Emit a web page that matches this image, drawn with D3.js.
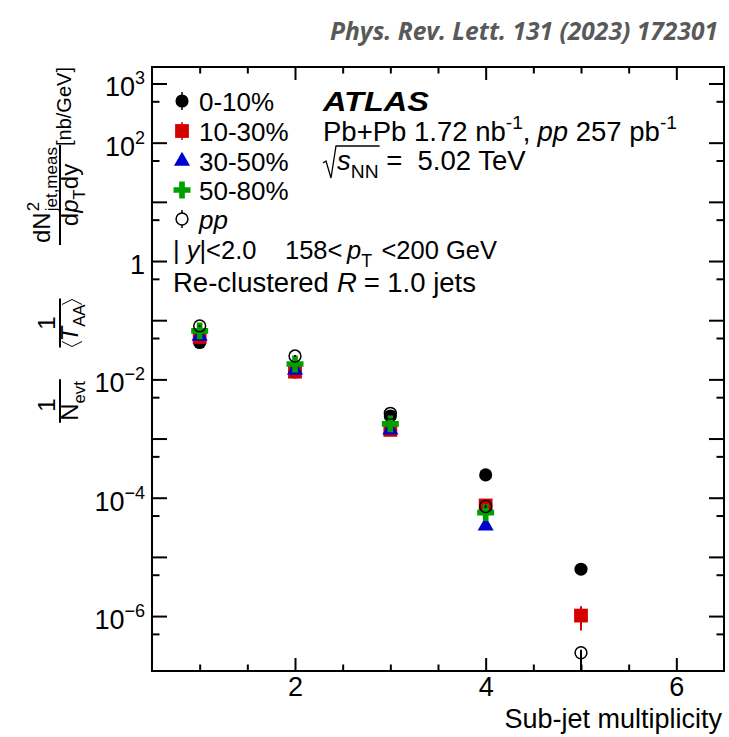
<!DOCTYPE html>
<html>
<head>
<meta charset="utf-8">
<script src="https://cdn.jsdelivr.net/npm/d3@7"></script>
<style>
  body { margin: 0; background: #fff; }
  svg { font-family: "Liberation Sans", Arial, sans-serif; }
  text { white-space: pre; }
</style>
</head>
<body>
<svg width="729" height="737"></svg>
<script>
// Values
var multiplicity = [1, 2, 3, 4, 5];
var cent0_10 = [0.042, 0.0133, 2.41e-3, 2.43e-4, 6.2e-6];
var cent10_30 = [0.052, 0.0135, 1.40e-3, 7.4e-5, 1.02e-6];
var cent30_50 = [0.054, 0.0144, 1.40e-3, 3.34e-5, null];
var cent50_80 = [0.066, 0.0182, 1.77e-3, 5.6e-5, null];
var ppRef = [0.080, 0.0248, 2.67e-3, 7.1e-5, 2.4e-7];

// uncertainties (mostly hidden under the markers)
var err0_10 = [0.003, 0.0010, 0.00015, 0.00001, 0.4e-6];
var err10_30 = [0.003, 0.0010, 0.00010, 0.5e-5, 0.45e-6];
var err30_50 = [0.003, 0.0010, 0.00010, 0.3e-5, null];
var err50_80 = [0.004, 0.0012, 0.00012, 0.4e-5, null];
var ppErrLo = [0.003, 0.0010, 0.00010, 0.4e-5, 1.8e-7];
var ppErrHi = [0.003, 0.0010, 0.00010, 0.4e-5, 0.3e-7];

var legendLabels = ["0-10%", "10-30%", "30-50%", "50-80%", "pp"];
var xTickLabels = [2, 4, 6];
var yTickLabels = [1e3, 1e2, 1, 1e-2, 1e-4, 1e-6];

var svg = d3.select("svg"),
  width = +svg.attr("width"),
  height = +svg.attr("height");

var xLeft = 152, xRight = 724, yTop = 67, yBottom = 671;

var x = d3.scaleLinear().domain([0.5, 6.5]).range([xLeft, xRight]);
var y = d3.scaleLog().domain([1.18e-7, 1.9e3]).range([yBottom, yTop]);

var red = "#d40000", blue = "#0000d0", green = "#00a000";

var series = [
  { name: legendLabels[0], vals: cent0_10, lo: err0_10, hi: err0_10, color: "#000", shape: "circle", fill: true },
  { name: legendLabels[1], vals: cent10_30, lo: err10_30, hi: err10_30, color: red, shape: "square", fill: true },
  { name: legendLabels[2], vals: cent30_50, lo: err30_50, hi: err30_50, color: blue, shape: "triangle", fill: true },
  { name: legendLabels[3], vals: cent50_80, lo: err50_80, hi: err50_80, color: green, shape: "cross", fill: true },
  { name: legendLabels[4], vals: ppRef, lo: ppErrLo, hi: ppErrHi, color: "#000", shape: "circle", fill: false }
];

function symbolPath(s) {
  if (s.shape === "circle") return d3.symbol().type(d3.symbolCircle).size(s.fill ? 135 : 110)();
  if (s.shape === "square") return d3.symbol().type(d3.symbolSquare).size(190)();
  if (s.shape === "triangle") return d3.symbol().type(d3.symbolTriangle).size(112)();
  return d3.symbol().type(d3.symbolCross).size(160)();
}

// rich text helper: parts = [[text, style], ...]
function rich(t, parts, fs) {
  var cur = 0;
  parts.forEach(function (p) {
    var st = p[1] || "";
    var off = st === "sub" ? 0.3 * fs : st === "sup" ? -0.42 * fs : 0;
    var ts = t.append("tspan").attr("dy", off - cur).text(p[0]);
    if (st === "i") ts.style("font-style", "italic");
    if (st === "sub" || st === "sup") ts.style("font-size", (0.7 * fs) + "px");
    cur = off;
  });
  return t;
}

// Title
svg.append("text")
  .attr("x", 718)
  .attr("y", 40)
  .attr("text-anchor", "end")
  .attr("textLength", 388)
  .attr("lengthAdjust", "spacingAndGlyphs")
  .style("font-family", "'Open Sans', sans-serif")
  .style("font-weight", "bold")
  .style("font-style", "italic")
  .style("font-size", "25px")
  .style("fill", "#595959")
  .text("Phys. Rev. Lett. 131 (2023) 172301");

// Axes
var xMinor = d3.range(1, 6.5, 0.5).filter(function (d) { return xTickLabels.indexOf(d) < 0; });
var yMajor = d3.range(-6, 4).map(function (e) { return Math.pow(10, e); });
var yMinor = d3.range(-7, 3).map(function (e) { return 5 * Math.pow(10, e); });

function styleAxis(g) {
  g.select(".domain").remove();
  g.selectAll("line").attr("stroke", "#000").attr("stroke-width", 2);
}

svg.append("g").attr("transform", "translate(0," + yBottom + ")")
  .call(d3.axisBottom(x).tickValues(xTickLabels).tickSizeInner(-13).tickSizeOuter(0).tickPadding(6).tickFormat(d3.format("d")))
  .call(styleAxis)
  .selectAll("text").style("font-size", "27px").style("font-family", "'Liberation Sans', Arial, sans-serif").attr("fill", "#000");
svg.append("g").attr("transform", "translate(0," + yBottom + ")")
  .call(d3.axisBottom(x).tickValues(xMinor).tickSize(-6.5).tickFormat(""))
  .call(styleAxis);
svg.append("g").attr("transform", "translate(0," + yTop + ")")
  .call(d3.axisTop(x).tickValues(xTickLabels).tickSize(-13).tickFormat(""))
  .call(styleAxis);
svg.append("g").attr("transform", "translate(0," + yTop + ")")
  .call(d3.axisTop(x).tickValues(xMinor).tickSize(-6.5).tickFormat(""))
  .call(styleAxis);

svg.append("g").attr("transform", "translate(" + xLeft + ",0)")
  .call(d3.axisLeft(y).tickValues(yMajor).tickSize(-15).tickFormat(""))
  .call(styleAxis);
svg.append("g").attr("transform", "translate(" + xLeft + ",0)")
  .call(d3.axisLeft(y).tickValues(yMinor).tickSize(-7.5).tickFormat(""))
  .call(styleAxis);
svg.append("g").attr("transform", "translate(" + xRight + ",0)")
  .call(d3.axisRight(y).tickValues(yMajor).tickSize(-15).tickFormat(""))
  .call(styleAxis);
svg.append("g").attr("transform", "translate(" + xRight + ",0)")
  .call(d3.axisRight(y).tickValues(yMinor).tickSize(-7.5).tickFormat(""))
  .call(styleAxis);

// y tick labels with superscripts
var yLab = svg.append("g").selectAll("text")
  .data(yTickLabels)
  .enter()
  .append("text")
  .attr("x", xLeft - 7)
  .attr("y", function (d) { return y(d) + 13; })
  .attr("text-anchor", "end")
  .style("font-size", "27px");
yLab.each(function (d) {
  var t = d3.select(this);
  var e = Math.round(Math.log10(d));
  if (e === 0) { t.text("1"); return; }
  t.append("tspan").text("10");
  t.append("tspan").attr("dy", -12).style("font-size", "18px")
    .text(e < 0 ? "\u2212" + (-e) : String(e));
});

// frame
svg.append("rect")
  .attr("x", xLeft).attr("y", yTop)
  .attr("width", xRight - xLeft).attr("height", yBottom - yTop)
  .attr("fill", "none").attr("stroke", "#000").attr("stroke-width", 2);

// x-axis title
svg.append("text")
  .attr("x", 722).attr("y", 728)
  .attr("text-anchor", "end")
  .style("font-size", "27px")
  .text("Sub-jet multiplicity");

// y-axis title (rotated, built from pieces)
var yt = svg.append("g").attr("transform", "translate(60,0) rotate(-90)");
var fsL = 24;

function piece(g, parts, fs, u, v, anchor) {
  var t = g.append("text").attr("x", u).attr("y", v)
    .attr("text-anchor", anchor || "start").style("font-size", fs + "px");
  rich(t, parts, fs);
  return t;
}
function bar(g, u0, u1) {
  g.append("line").attr("x1", u0).attr("x2", u1).attr("y1", 0).attr("y2", 0)
    .attr("stroke", "#000").attr("stroke-width", 2);
}

// 1 / N_evt
piece(yt, [["1"]], fsL, -405, -5, "middle");
var nevt = piece(yt, [["N"], ["evt", "sub"]], fsL, -401, 18, "middle");
var w1 = nevt.node().getComputedTextLength();
bar(yt, -401 - w1 / 2 - 2, -401 + w1 / 2 + 2);

// 1 / <T_AA>
piece(yt, [["1"]], fsL, -323, -5, "middle");
var taa = piece(yt, [["T", "i"], ["AA", "sub"]], fsL, -323, 18, "middle");
var w2 = taa.node().getComputedTextLength();
var bl = -323 - w2 / 2 - 5, br = -323 + w2 / 2 + 5;
yt.append("path").attr("d", "M" + (bl + 5) + ",2 L" + bl + ",12 L" + (bl + 5) + ",22")
  .attr("fill", "none").attr("stroke", "#000").attr("stroke-width", 1);
yt.append("path").attr("d", "M" + (br - 5) + ",2 L" + br + ",12 L" + (br - 5) + ",22")
  .attr("fill", "none").attr("stroke", "#000").attr("stroke-width", 1);
bar(yt, bl - 1, br + 1);

// dN^2_{jet,meas} / dp_T dy
var u0 = -243;
var dn = piece(yt, [["dN"]], fsL, u0, -10);
var wdn = dn.node().getComputedTextLength();
piece(yt, [["2"]], 17, u0 + wdn + 1, -21);
var jm = piece(yt, [["jet,meas"]], 17, u0 + wdn + 1, -3);
var wnum = wdn + 1 + jm.node().getComputedTextLength();
piece(yt, [["d"], ["p", "i"], ["T", "sub"], ["dy"]], fsL, u0 + wnum / 2, 18, "middle");
bar(yt, u0 - 2, u0 + wnum + 2);

// units
piece(yt, [["[nb/GeV]"]], 20, -146, 11);

// Data points
var plot = svg.append("g");
svg.append("clipPath").attr("id", "clip")
  .append("rect").attr("x", xLeft).attr("y", yTop)
  .attr("width", xRight - xLeft).attr("height", yBottom - yTop);

series.forEach(function (s) {
  var pts = multiplicity.map(function (m, i) {
    return { m: m, v: s.vals[i], lo: s.lo[i], hi: s.hi[i] };
  }).filter(function (d) { return d.v != null; });

  var g = plot.append("g");
  g.append("g").attr("clip-path", "url(#clip)")
    .selectAll("line")
    .data(pts)
    .enter()
    .append("line")
    .attr("x1", function (d) { return x(d.m); })
    .attr("x2", function (d) { return x(d.m); })
    .attr("y1", function (d) { return y(Math.max(d.v - d.lo, 1e-9)); })
    .attr("y2", function (d) { return y(d.v + d.hi); })
    .attr("stroke", s.color)
    .attr("stroke-width", 2);

  g.selectAll("path")
    .data(pts)
    .enter()
    .append("path")
    .attr("d", symbolPath(s))
    .attr("transform", function (d) { return "translate(" + x(d.m) + "," + y(d.v) + ")"; })
    .attr("fill", s.fill ? s.color : "none")
    .attr("stroke", s.fill ? "none" : s.color)
    .attr("stroke-width", 1.5);
});

// Legend
var legend = svg.append("g").style("font-size", "26px");
var rowY = [101, 131, 161, 190, 219];
series.forEach(function (s, i) {
  var row = legend.append("g").attr("transform", "translate(182," + rowY[i] + ")");
  if (s.shape === "circle" || s.shape === "square") {
    row.append("line").attr("y1", -9).attr("y2", 9)
      .attr("stroke", s.color).attr("stroke-width", 1.5);
  }
  row.append("path")
    .attr("d", symbolPath(s))
    .attr("fill", s.fill ? s.color : "#fff")
    .attr("stroke", s.fill ? "none" : s.color)
    .attr("stroke-width", 1.5);
  var t = row.append("text").attr("x", 17).attr("y", 9.5);
  if (s.name === "pp") t.style("font-style", "italic");
  t.text(s.name);
});

// cut and jet definition lines
var fsT = 27.5, fsC = 25.5;
var info = svg.append("g").style("font-size", fsT + "px");
var cuts = info.append("g").style("font-size", fsC + "px");
rich(cuts.append("text").attr("x", 173).attr("y", 259),
  [["| "], ["y", "i"], ["|<2.0"]], fsC);
rich(cuts.append("text").attr("x", 285).attr("y", 259),
  [["158<"]], fsC);
rich(cuts.append("text").attr("x", 347).attr("y", 259),
  [["p", "i"], ["T", "sub"]], fsC);
rich(cuts.append("text").attr("x", 497).attr("y", 259).attr("text-anchor", "end"),
  [["<200 GeV"]], fsC);
rich(info.append("text").attr("x", 173).attr("y", 292),
  [["Re-clustered"]], fsT);
rich(info.append("text").attr("x", 337).attr("y", 292),
  [["R", "i"]], fsT);
rich(info.append("text").attr("x", 476).attr("y", 292).attr("text-anchor", "end"),
  [["= 1.0 jets"]], fsT);

// ATLAS block
var ax = 323;
info.append("text").attr("x", ax).attr("y", 111)
  .attr("textLength", 106).attr("lengthAdjust", "spacingAndGlyphs")
  .style("font-weight", "bold").style("font-style", "italic").text("ATLAS");
rich(info.append("text").attr("x", ax).attr("y", 141),
  [["Pb+Pb 1.72 nb"], ["-1", "sup"], [","]], fsT);
rich(info.append("text").attr("x", 677).attr("y", 141).attr("text-anchor", "end"),
  [["pp", "i"], [" 257 pb"], ["-1", "sup"]], fsT);
var sq = info.append("text").attr("x", ax + 14).attr("y", 170);
rich(sq, [["s", "i"], ["NN", "sub"], [" =  5.02 TeV"]], fsT);
var sqW = sq.selectAll("tspan").nodes().slice(0, 2)
  .reduce(function (a, n) { return a + n.getComputedTextLength(); }, 0);
info.append("path")
  .attr("d", "M" + ax + ",163 L" + (ax + 3) + ",161 L" + (ax + 8) + ",178 L" + (ax + 13) + ",146 L" + (ax + 14 + sqW + 1) + ",146")
  .attr("fill", "none").attr("stroke", "#000").attr("stroke-width", 1.3);
</script>
</body>
</html>
